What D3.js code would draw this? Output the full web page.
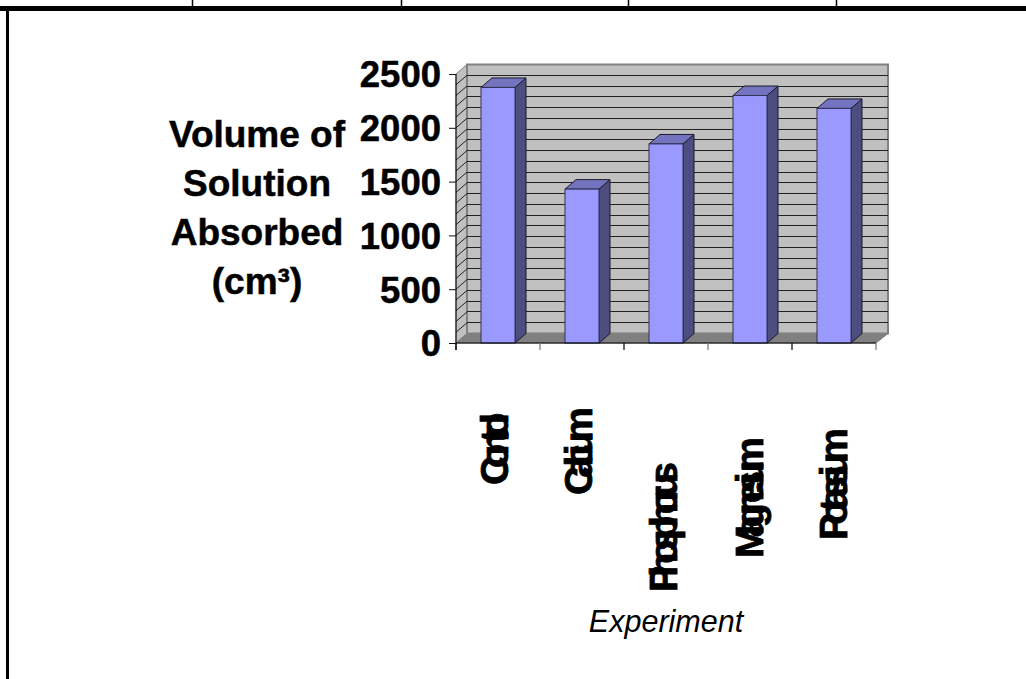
<!DOCTYPE html>
<html><head><meta charset="utf-8">
<style>html,body{margin:0;padding:0;background:#fff;overflow:hidden}svg{display:block}text{font-family:"Liberation Sans",Arial,sans-serif;fill:#000}</style>
<script src="https://cdn.jsdelivr.net/npm/d3@7"></script></head><body>
<script>
const categories = ["Control","Calcium","Phosphorus","Magnesium","Potassium"];
const volumes = [2375,1430,1850,2300,2180];
const yTickValues = [0,500,1000,1500,2000,2500];
const yTitleLines = ["Volume of","Solution","Absorbed","(cm³)"];
const xTitle = "Experiment";
// layout of the squeezed rotated category labels (bottom end, squeezed length), in pixels
const labelBottom = [485,495,592,558,540];
const labelLength = [72,88,130,121,112];
const labelBaselineShift = [10,10,11,13,13];
const frameTicks = [192.5,401.5,628.5,836.5];

const W=1026,H=679, dx=11, dy=9.5;
const svg=d3.select("body").append("svg").attr("width",W).attr("height",H);
// frame
svg.append("rect").attr("x",0).attr("y",6).attr("width",W).attr("height",5).attr("fill","#000");
svg.append("rect").attr("x",6).attr("y",8).attr("width",3).attr("height",H-8).attr("fill","#000");
svg.selectAll(".ft").data(frameTicks).join("line").attr("x1",d=>d).attr("x2",d=>d).attr("y1",0).attr("y2",7).attr("stroke","#000").attr("stroke-width",1.5);

const x=d3.scaleBand().domain(categories).range([456,876]).paddingInner(0.595).paddingOuter(0.2975);
const y=d3.scaleLinear().domain([0,2500]).range([343,74]);
const step=x.step();
const x0=456,x1=876,y0=y(0),yT=y(2500);

const pts=a=>a.map(p=>p.join(",")).join(" ");
// side wall, back wall, floor
svg.append("polygon").attr("points",pts([[x0,yT],[x0+dx,yT-dy],[x0+dx,y0-dy],[x0,y0]])).attr("fill","#c0c0c0").attr("stroke","#808080");
svg.append("polygon").attr("points",pts([[x0+dx,yT-dy],[x1+dx+1,yT-dy],[x1+dx+1,y0-dy],[x0+dx,y0-dy]])).attr("fill","#c0c0c0").attr("stroke","#808080").attr("stroke-width",2);
// gridlines every 100
const grid=y.ticks(25).filter(v=>v>0&&v<2500);
svg.selectAll(".gs").data(grid).join("line").attr("stroke","#222").attr("stroke-width",1)
  .attr("x1",x0).attr("x2",x0+dx).attr("y1",v=>y(v)).attr("y2",v=>y(v)-dy);
svg.selectAll(".gb").data(grid).join("line").attr("stroke","#222").attr("stroke-width",1).attr("shape-rendering","crispEdges")
  .attr("x1",x0+dx).attr("x2",x1+dx+1).attr("y1",v=>y(v)-dy).attr("y2",v=>y(v)-dy);
svg.append("polygon").attr("points",pts([[x0,y0],[x0+dx,y0-dy],[x1+dx+1,y0-dy],[x1,y0]])).attr("fill","#808080").attr("stroke","#808080");

// bars
const bw=x.bandwidth();
const bars=svg.selectAll(".bar").data(categories).join("g");
const stroke="#1a1a2a";
bars.append("polygon").attr("fill","#4d4d80").attr("stroke",stroke)
  .attr("points",(c,i)=>{const r=x(c)+bw,t=y(volumes[i]);return pts([[r,t],[r+dx,t-dy],[r+dx,y0-dy],[r,y0]]);});
bars.append("polygon").attr("fill","#7373bf").attr("stroke",stroke)
  .attr("points",(c,i)=>{const l=x(c),r=l+bw,t=y(volumes[i]);return pts([[l,t],[l+dx,t-dy],[r+dx,t-dy],[r,t]]);});
bars.append("rect").attr("fill","#9999ff").attr("stroke","#333355")
  .attr("x",c=>x(c)).attr("width",bw).attr("y",(c,i)=>y(volumes[i])).attr("height",(c,i)=>y0-y(volumes[i]));

// y axis
const yAxis=d3.axisLeft(y).tickValues(yTickValues).tickSize(7).tickPadding(8).tickFormat(d3.format("d"));
const ga=svg.append("g").attr("transform",`translate(${x0},0)`).call(yAxis);
ga.select(".domain").attr("stroke","#000").attr("d",`M0,${yT}V${y0+7}`);
ga.selectAll("line").attr("stroke","#111");
ga.selectAll("text").attr("font-size",36.5).attr("font-weight","bold").attr("dy",null).attr("y",12.8).attr("fill","#000")
  .attr("stroke","#000").attr("stroke-width",0.5).style("font-family",'"Liberation Sans",Arial,sans-serif');
svg.append("line").attr("x1",x0).attr("x2",x1).attr("y1",y0).attr("y2",y0).attr("stroke","#000");
// category ticks at band edges
svg.selectAll(".ct").data(d3.range(categories.length+1)).join("line")
  .attr("x1",i=>x0+i*step).attr("x2",i=>x0+i*step).attr("y1",y0).attr("y2",y0+7).attr("stroke",(i)=>i%2?"#777":"#000").attr("stroke-width",1.2);

// y title
svg.selectAll(".yt").data(yTitleLines).join("text").attr("text-anchor","middle").attr("x",257)
  .attr("y",(d,i)=>147+i*49).attr("font-size",37).attr("font-weight","bold").attr("stroke","#000").attr("stroke-width",0.5).text(d=>d);

// rotated, squeezed labels
svg.selectAll(".cl").data(categories).join("text")
  .attr("transform",(c,i)=>`translate(${x(c)+bw+labelBaselineShift[i]-17},${labelBottom[i]}) rotate(-90)`)
  .attr("font-size",39.5).attr("font-weight","bold").attr("stroke","#000").attr("stroke-width",0.8)
  .attr("textLength",(c,i)=>labelLength[i]).attr("lengthAdjust","spacing").text(c=>c);

svg.append("text").attr("x",666).attr("y",632).attr("text-anchor","middle").attr("font-size",30.5).attr("font-style","italic").text(xTitle);
</script></body></html>
